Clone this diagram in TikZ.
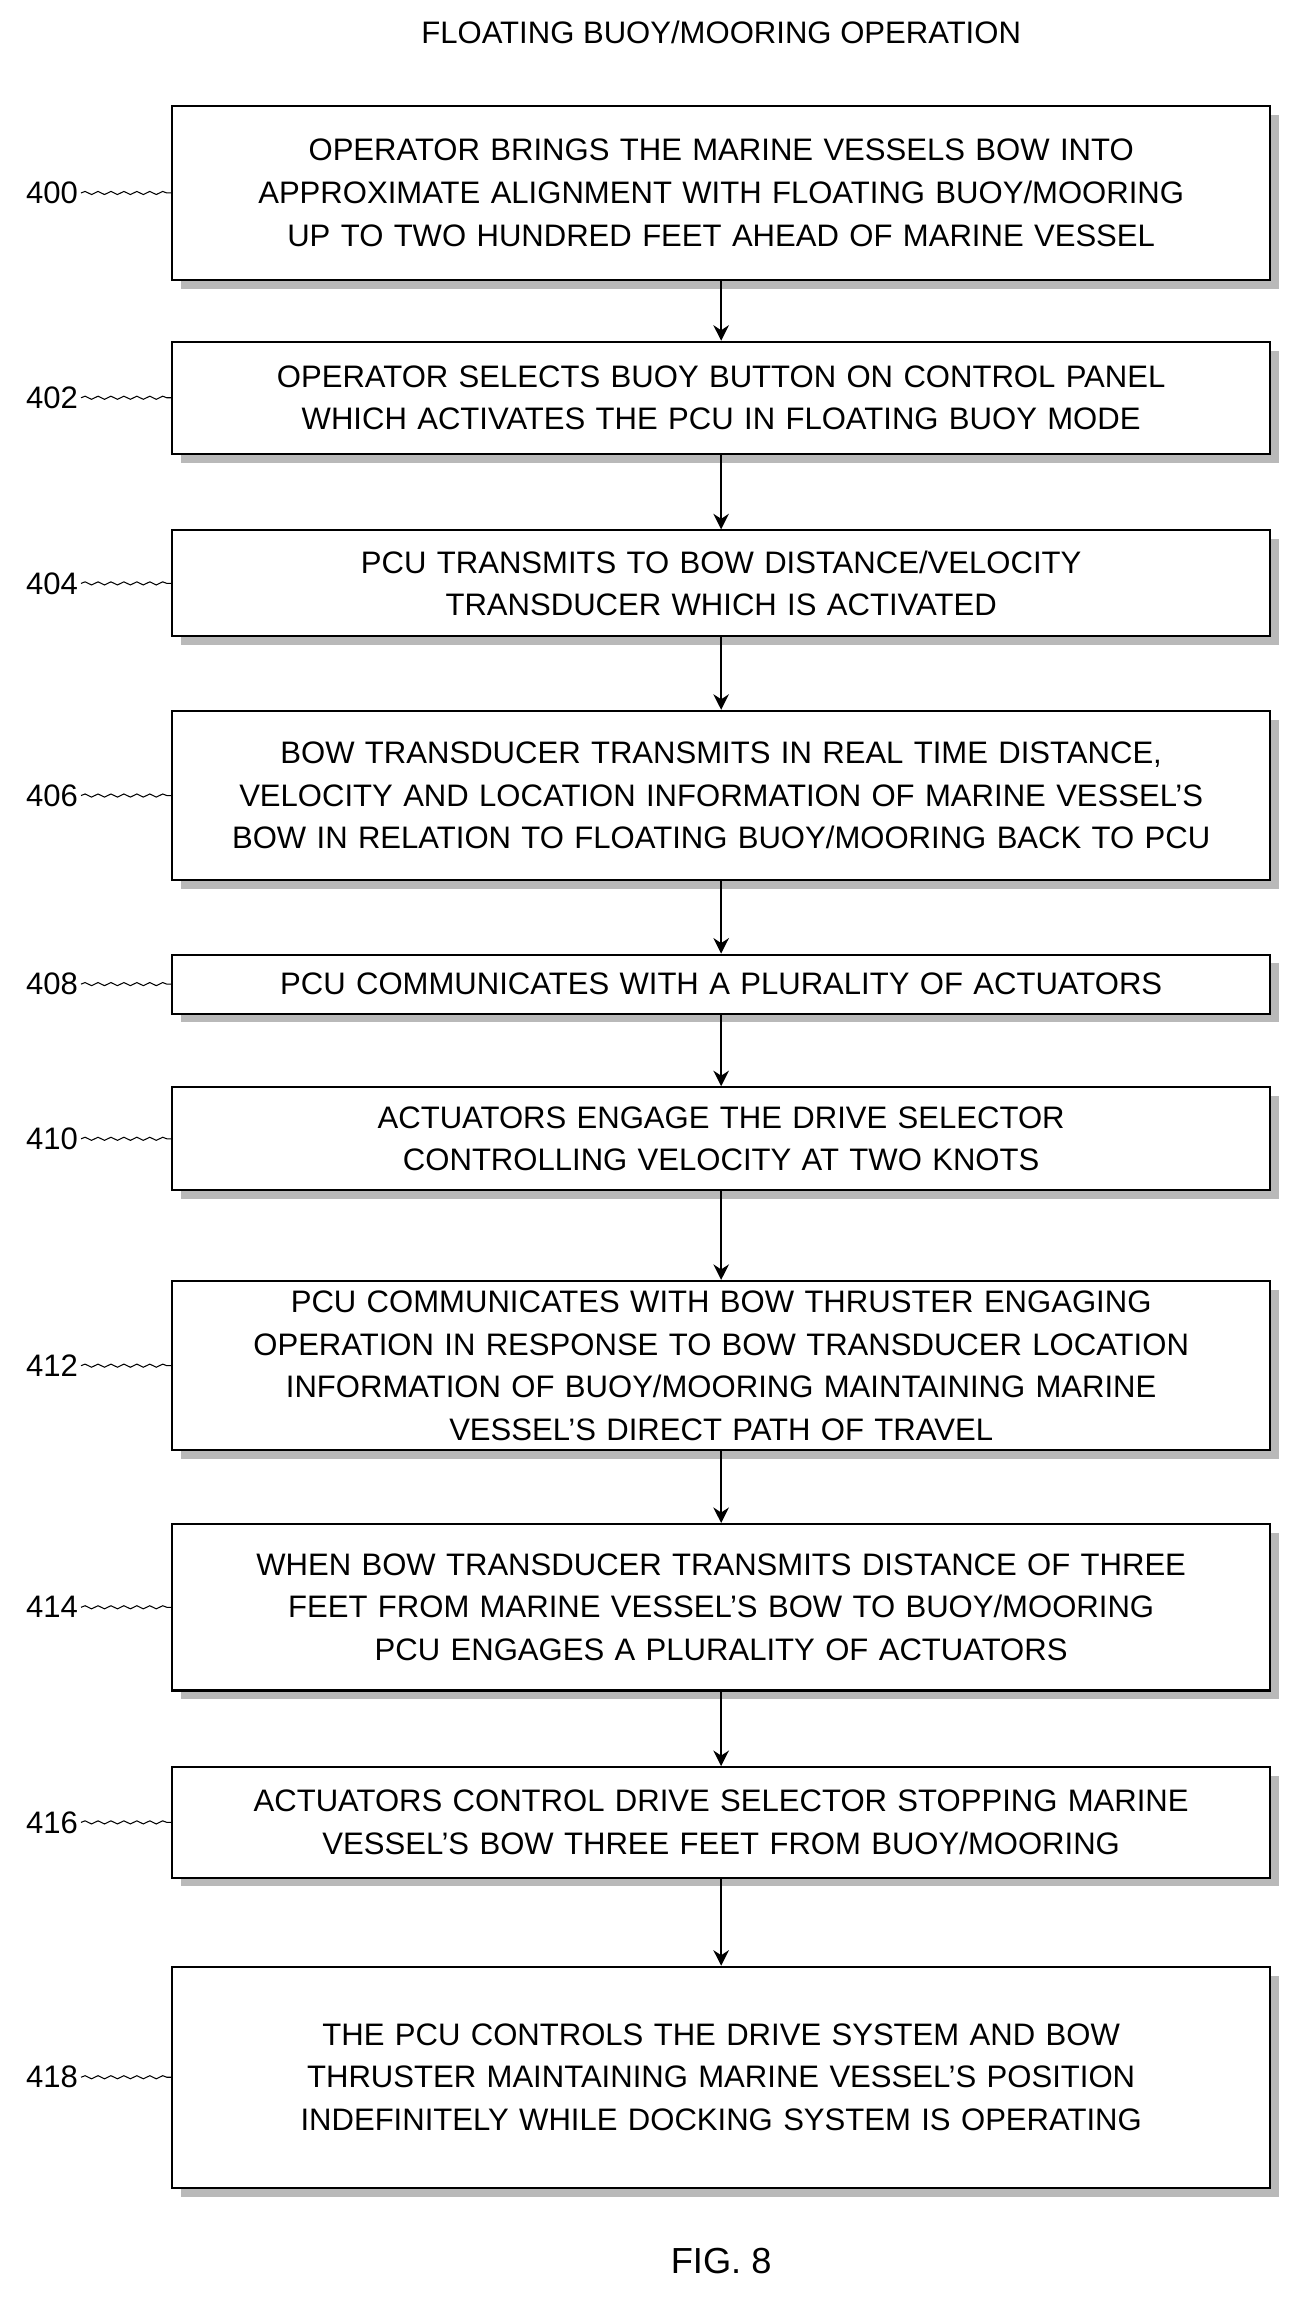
\documentclass[tikz,border=0pt]{standalone}
\usepackage{fontspec}
\setmainfont{Liberation Sans}
\usetikzlibrary{shadows,arrows.meta,decorations.pathmorphing}
\tikzset{
  stepbox/.style={draw=black, thick, fill=white, align=center, text width=14.4cm,
    minimum width=14.9cm, inner sep=0pt, font=\fontsize{12}{16.5}\selectfont,
    drop shadow={shadow xshift=0.12cm, shadow yshift=-0.12cm, fill=black!55}},
  refnum/.style={font=\fontsize{12}{14}\selectfont, anchor=east, inner sep=1pt},
  flow/.style={draw=black, thick, -{Stealth[length=6pt,width=6pt]}},
  leader/.style={draw=black, decorate, decoration={snake, amplitude=0.6pt, segment length=5pt}}
}
\begin{document}
\begin{tikzpicture}
\useasboundingbox (0,0) rectangle (17.6,-31.36);
\node[font=\fontsize{12}{14}\selectfont] (title) at (9.79,-0.44) {FLOATING BUOY/MOORING OPERATION};
\node[stepbox, minimum height=2.36cm] (b400) at (9.79,-2.62) {OPERATOR BRINGS THE MARINE VESSELS BOW INTO\\APPROXIMATE ALIGNMENT WITH FLOATING BUOY/MOORING\\UP TO TWO HUNDRED FEET AHEAD OF MARINE VESSEL};
\node[stepbox, minimum height=1.52cm] (b402) at (9.79,-5.40) {OPERATOR SELECTS BUOY BUTTON ON CONTROL PANEL\\WHICH ACTIVATES THE PCU IN FLOATING BUOY MODE};
\node[stepbox, minimum height=1.44cm] (b404) at (9.79,-7.92) {PCU TRANSMITS TO BOW DISTANCE/VELOCITY\\TRANSDUCER WHICH IS ACTIVATED};
\node[stepbox, minimum height=2.30cm] (b406) at (9.79,-10.80) {BOW TRANSDUCER TRANSMITS IN REAL TIME DISTANCE,\\VELOCITY AND LOCATION INFORMATION OF MARINE VESSEL'S\\BOW IN RELATION TO FLOATING BUOY/MOORING BACK TO PCU};
\node[stepbox, minimum height=0.80cm] (b408) at (9.79,-13.36) {PCU COMMUNICATES WITH A PLURALITY OF ACTUATORS};
\node[stepbox, minimum height=1.40cm] (b410) at (9.79,-15.46) {ACTUATORS ENGAGE THE DRIVE SELECTOR\\CONTROLLING VELOCITY AT TWO KNOTS};
\node[stepbox, minimum height=2.30cm] (b412) at (9.79,-18.54) {PCU COMMUNICATES WITH BOW THRUSTER ENGAGING\\OPERATION IN RESPONSE TO BOW TRANSDUCER LOCATION\\INFORMATION OF BUOY/MOORING MAINTAINING MARINE\\VESSEL'S DIRECT PATH OF TRAVEL};
\node[stepbox, minimum height=2.26cm] (b414) at (9.79,-21.82) {WHEN BOW TRANSDUCER TRANSMITS DISTANCE OF THREE\\FEET FROM MARINE VESSEL'S BOW TO BUOY/MOORING\\PCU ENGAGES A PLURALITY OF ACTUATORS};
\node[stepbox, minimum height=1.50cm] (b416) at (9.79,-24.74) {ACTUATORS CONTROL DRIVE SELECTOR STOPPING MARINE\\VESSEL'S BOW THREE FEET FROM BUOY/MOORING};
\node[stepbox, minimum height=3.00cm] (b418) at (9.79,-28.20) {THE PCU CONTROLS THE DRIVE SYSTEM AND BOW\\THRUSTER MAINTAINING MARINE VESSEL'S POSITION\\INDEFINITELY WHILE DOCKING SYSTEM IS OPERATING};
\node[font=\fontsize{14}{16}\selectfont] (fig) at (9.79,-30.70) {FIG. 8};
% step numbers with leaders
\foreach \n/\y in {400/-2.62,402/-5.40,404/-7.92,406/-10.80,408/-13.36,410/-15.46,412/-18.54,414/-21.82,416/-24.74,418/-28.20}{
  \node[refnum] (r\n) at (1.1,\y) {\n};
  \draw[leader] (r\n.east) -- (b\n.west);
}
% flow
\foreach \a/\b in {400/402,402/404,404/406,406/408,408/410,410/412,412/414,414/416,416/418}
  \draw[flow] (b\a.south) -- (b\b.north);
\end{tikzpicture}
\end{document}
